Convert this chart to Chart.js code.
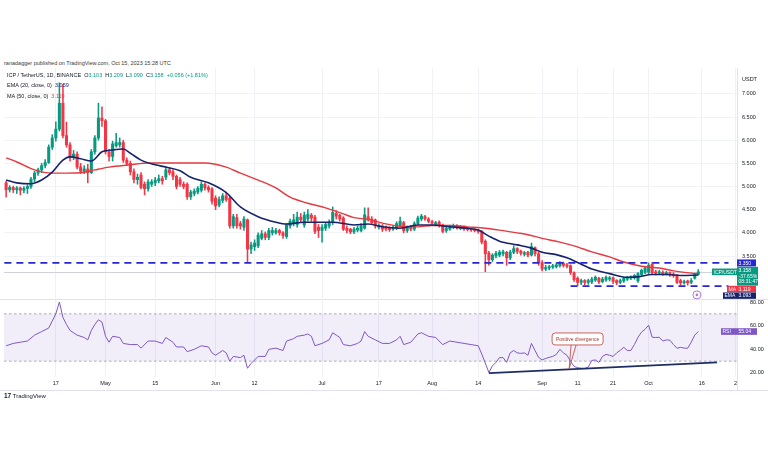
<!DOCTYPE html>
<html><head><meta charset="utf-8">
<script src="https://cdn.jsdelivr.net/npm/chart.js@4.4.1/dist/chart.umd.min.js"></script>
<style>
html,body{margin:0;padding:0;background:#fff;}
body{width:768px;height:463px;position:relative;overflow:hidden;font-family:"Liberation Sans",Arial,sans-serif;color:#131722;}
.t{position:absolute;white-space:nowrap;font-size:5.5px;line-height:7px;}
.g{color:#089981}
canvas{position:absolute;left:0;}
#c1{top:68px;} #c2{top:298px;}
.ln{position:absolute;background:#e0e3eb;}
</style></head><body>
<div class="t" style="left:4px;top:59.5px;color:#3a3a3a">ranadagger published on TradingView.com, Oct 15, 2023 15:28 UTC</div>
<div class="ln" style="left:0;top:299px;width:768px;height:1px"></div>
<div class="ln" style="left:0;top:390px;width:768px;height:1px"></div>
<div class="ln" style="left:737px;top:68px;width:1px;height:322px"></div>
<canvas id="c1" width="768" height="232"></canvas>
<canvas id="c2" width="768" height="96"></canvas>
<div class="t" style="left:7px;top:71.5px">ICP / TetherUS, 1D, BINANCE&nbsp; O<span class="g">3.103</span>&nbsp; H<span class="g">3.209</span>&nbsp; L<span class="g">3.090</span>&nbsp; C<span class="g">3.158</span>&nbsp; <span class="g">+0.056 (+1.81%)</span></div>
<div class="t" style="left:7px;top:82px">EMA (20, close, 0)&nbsp; <span style="color:#1b2a80">3.059</span></div>
<div class="t" style="left:7px;top:92.5px">MA (50, close, 0)&nbsp; <span style="color:#e5393f">3.119</span></div>
<div class="t" style="left:742px;top:75.5px">USDT</div>
<div class="t" style="left:4px;top:392px;font-size:6px;color:#131722"><b style="font-size:6.5px">17</b> TradingView</div>
<script>
const FONT = '"Liberation Sans", Arial, sans-serif';
// ---- axis ticks ----
const xTickDays   = [14, 28, 42, 59, 70, 89, 105, 120, 133, 151, 161, 171, 181, 196, 205.5];
const xTickLabels = ["17","May","15","Jun","12","Jul","17","Aug","14","Sep","11","21","Oct","16","2"];
const priceTicks  = [3.5, 4.0, 4.5, 5.0, 5.5, 6.0, 6.5, 7.0];
const rsiTicks    = [20, 40, 60, 80];
// ---- daily candles (day 0 = Apr 3, 2023) ----
const opens = [
5.08,4.93,4.98,4.93,4.97,4.92,4.96,5.00,5.16,5.29,
5.36,5.45,5.52,5.85,6.05,6.24,6.80,6.10,5.90,5.64,
5.70,5.42,5.33,5.38,5.30,5.75,6.05,6.48,6.42,5.75,
5.65,5.88,5.90,5.95,5.57,5.50,5.32,5.15,5.25,5.05,
4.95,5.05,5.08,5.12,5.17,5.20,5.36,5.32,5.22,5.15,
5.05,5.05,4.78,4.85,4.88,4.92,5.05,4.98,4.95,4.75,
4.60,4.70,4.80,4.75,4.15,4.33,4.20,4.12,4.28,3.65,
3.70,3.72,3.88,3.98,3.90,4.00,4.00,4.05,4.00,3.92,
4.15,4.20,4.18,4.34,4.17,4.30,4.38,4.34,4.12,4.05,
4.10,4.15,4.22,4.42,4.38,4.32,4.10,4.08,4.02,4.06,
4.05,4.10,4.35,4.30,4.28,4.12,4.15,4.12,4.10,4.08,
4.10,4.15,4.22,4.05,4.12,4.08,4.20,4.30,4.35,4.30,
4.24,4.18,4.23,4.17,4.05,4.08,4.12,4.15,4.10,4.13,
4.10,4.08,4.07,4.06,4.03,3.82,3.56,3.42,3.50,3.52,
3.55,3.58,3.46,3.58,3.66,3.60,3.54,3.58,3.52,3.68,
3.55,3.36,3.22,3.24,3.26,3.27,3.29,3.34,3.31,3.29,
3.14,3.02,2.93,2.97,2.93,2.94,2.98,3.02,2.95,2.98,
3.00,3.03,2.97,2.93,2.96,3.00,3.02,3.03,2.96,3.10,
3.15,3.15,3.32,3.16,3.13,3.15,3.11,3.14,3.11,3.09,
2.97,2.92,2.96,2.93,3.02,3.103];
const highs = [
5.12,5.02,5.01,5.00,4.99,5.00,5.04,5.20,5.33,5.40,
5.50,5.58,5.90,6.12,6.40,7.24,7.20,6.39,5.95,5.78,
5.75,5.50,5.45,5.48,5.80,6.10,6.80,6.72,6.45,5.80,
5.98,6.15,6.05,6.00,5.62,5.55,5.38,5.27,5.30,5.10,
5.15,5.15,5.20,5.25,5.22,5.42,5.40,5.36,5.25,5.20,
5.10,5.08,4.92,4.95,5.00,5.10,5.08,5.02,4.98,4.80,
4.78,4.85,4.88,4.78,4.40,4.40,4.25,4.35,4.30,3.80,
3.85,4.00,4.05,4.02,4.10,4.12,4.10,4.08,4.03,4.20,
4.30,4.40,4.45,4.42,4.45,4.50,4.42,4.38,4.18,4.18,
4.22,4.28,4.56,4.48,4.40,4.35,4.15,4.10,4.12,4.15,
4.20,4.54,4.54,4.35,4.30,4.20,4.18,4.15,4.13,4.16,
4.24,4.34,4.25,4.15,4.16,4.24,4.36,4.40,4.38,4.33,
4.27,4.25,4.26,4.19,4.13,4.17,4.19,4.18,4.16,4.15,
4.12,4.10,4.09,4.08,4.05,3.85,3.60,3.55,3.60,3.62,
3.63,3.60,3.62,3.72,3.68,3.63,3.60,3.60,3.78,3.70,
3.58,3.40,3.30,3.30,3.32,3.35,3.38,3.37,3.34,3.31,
3.16,3.05,3.00,2.99,3.00,3.04,3.07,3.04,3.04,3.07,
3.06,3.05,2.99,3.00,3.04,3.06,3.07,3.10,3.14,3.22,
3.27,3.35,3.36,3.19,3.19,3.18,3.17,3.16,3.14,3.10,
3.00,2.98,2.98,3.01,3.12,3.209];
const lows = [
4.77,4.88,4.87,4.85,4.82,4.86,4.85,4.96,5.10,5.24,
5.30,5.40,5.50,5.80,5.98,6.20,6.05,5.85,5.55,5.58,
5.38,5.28,5.28,5.08,5.28,5.70,6.00,6.30,5.70,5.55,
5.55,5.85,5.85,5.52,5.45,5.25,5.08,5.05,4.95,4.82,
4.90,5.00,5.02,5.08,5.05,5.15,5.25,5.15,4.95,5.00,
4.95,4.72,4.72,4.80,4.84,4.88,4.92,4.88,4.62,4.50,
4.56,4.65,4.68,4.10,4.10,4.10,4.08,4.05,3.37,3.55,
3.62,3.68,3.85,3.85,3.85,3.95,3.97,3.95,3.88,3.88,
4.10,4.15,4.12,4.22,4.12,4.25,4.25,3.98,3.90,3.80,
4.05,4.10,4.18,4.30,4.25,4.05,4.00,3.98,3.98,4.02,
4.02,4.08,4.25,4.18,4.10,4.08,4.03,4.04,4.03,4.05,
4.07,4.12,4.00,4.01,4.04,4.05,4.17,4.26,4.27,4.22,
4.18,4.15,4.12,4.00,4.01,4.05,4.09,4.08,4.07,4.05,
4.04,4.03,4.02,3.99,3.76,3.16,3.30,3.38,3.46,3.48,
3.50,3.30,3.42,3.55,3.55,3.52,3.50,3.48,3.50,3.50,
3.30,3.18,3.18,3.20,3.23,3.24,3.26,3.26,3.24,3.10,
2.95,2.86,2.88,2.88,2.89,2.90,2.95,2.90,2.92,2.95,
2.96,2.90,2.88,2.90,2.93,2.97,2.99,3.00,2.93,3.07,
3.12,3.12,3.10,3.09,3.10,3.08,3.09,3.06,3.04,2.90,
2.88,2.89,2.87,2.90,3.00,3.090];
const closes = [
4.93,4.98,4.93,4.97,4.92,4.96,5.00,5.16,5.29,5.36,
5.45,5.52,5.85,6.05,6.24,6.80,6.10,5.90,5.64,5.70,
5.42,5.33,5.38,5.30,5.75,6.05,6.48,6.42,5.75,5.65,
5.92,5.95,5.95,5.57,5.50,5.32,5.15,5.20,4.98,4.95,
5.10,5.10,5.14,5.17,5.12,5.36,5.30,5.22,5.00,5.05,
5.00,4.78,4.88,4.90,4.96,5.05,4.97,4.93,4.68,4.58,
4.72,4.80,4.72,4.15,4.35,4.15,4.15,4.30,3.65,3.74,
3.78,3.95,3.98,3.90,4.05,4.05,4.05,4.00,3.94,4.17,
4.25,4.28,4.34,4.28,4.38,4.40,4.32,4.03,4.05,4.12,
4.18,4.22,4.44,4.36,4.30,4.08,4.05,4.02,4.08,4.10,
4.15,4.39,4.28,4.22,4.15,4.16,4.08,4.08,4.07,4.12,
4.20,4.25,4.05,4.12,4.08,4.20,4.32,4.36,4.30,4.25,
4.21,4.22,4.17,4.03,4.10,4.14,4.16,4.12,4.13,4.08,
4.07,4.06,4.05,4.03,3.80,3.55,3.42,3.52,3.56,3.58,
3.59,3.46,3.58,3.66,3.60,3.56,3.57,3.52,3.70,3.55,
3.35,3.22,3.25,3.27,3.29,3.31,3.34,3.30,3.28,3.14,
2.99,2.93,2.97,2.93,2.97,3.00,3.04,2.94,3.00,3.04,
3.03,2.95,2.92,2.97,3.02,3.04,3.05,3.08,3.12,3.19,
3.24,3.30,3.14,3.13,3.16,3.11,3.14,3.10,3.08,2.93,
2.92,2.95,2.92,2.97,3.10,3.158];
// ---- moving averages ----
const emaDays   = [0,3,7,10,13,16,18,21,24,27,30,33,35,38,42,45,49,52,57,62,66,71,76,79,84,92,98,102,106,111,116,120,125,130,133,136,139,144,148,151,155,158,161,165,170,175,178,182,186,190,195];
const emaValues = [5.14,5.08,5.06,5.14,5.31,5.57,5.64,5.60,5.55,5.75,5.79,5.81,5.72,5.57,5.47,5.42,5.34,5.20,5.08,4.87,4.56,4.35,4.23,4.19,4.23,4.23,4.17,4.19,4.13,4.10,4.17,4.17,4.13,4.10,4.06,3.93,3.82,3.74,3.67,3.58,3.53,3.46,3.36,3.22,3.12,3.04,3.05,3.10,3.10,3.08,3.09];
const maDays    = [0,3,8,13,17,22,25,29,35,40,49,56,62,66,71,76,80,85,90,95,98,102,106,111,116,120,125,130,135,139,144,147,151,156,160,165,170,174,179,184,188,193,195];
const maValues  = [5.62,5.53,5.36,5.29,5.29,5.31,5.36,5.42,5.47,5.51,5.51,5.51,5.42,5.29,5.14,4.97,4.77,4.64,4.54,4.41,4.33,4.29,4.21,4.14,4.13,4.16,4.16,4.13,4.10,4.06,4.00,3.96,3.88,3.80,3.72,3.59,3.48,3.37,3.28,3.24,3.18,3.13,3.12];
// ---- RSI (14) ----
const rsiDays = [0,2,4,6,8,10,12,13,14,15,16,17,18,20,22,23,24,25,26,27,28,29,30,32,33,35,37,38,40,42,44,45,47,48,50,51,53,55,57,58,59,61,62,63,64,66,67,68,69,71,73,74,76,78,79,81,82,84,85,86,87,89,91,92,93,94,95,97,99,100,101,102,104,106,108,110,111,112,114,116,117,119,121,123,125,127,129,131,133,134,136,137,138,139,140,141,142,143,144,145,146,147,148,149,150,151,152,153,154,155,156,157,158,159,160,161,162,163,164,165,166,167,168,169,170,171,172,173,174,175,176,177,178,179,180,181,182,183,184,185,186,187,188,189,190,191,192,193,194,195];
const rsiValues = [43,45,46,47,52,55,58,64,70,80,67,61,56,52,50,48,56,61,65,63,51,46,51,50,45,44,44,41,47,47,45,50,46,42,42,38,40,43,42,37,35,39,37,30,34,33,35,24,28,34,34,40,41,39,47,49,51,52,53,51,43,45,48,54,52,50,44,43,45,47,55,51,48,45,45,48,51,44,46,53,54,51,50,44,47,46,45,44,43,36,20.4,26,29,33,33,29,37,39,37,36.6,37,35,45,39,33.2,31,32.3,33.2,34,35.7,40,37,34.9,30,25.5,24.5,24,23.8,25,30.6,31,28.9,34,35.7,35,34,37,39.1,41.7,39,39.1,44,50.2,54.5,57,60.4,50.2,50,50.2,47,48,47.7,44,40.9,41.7,41,40.9,46,52,55.04];
// ---- drawings ----
const resistanceLevel = 3.35, supportLevel = 2.85, supportFromDay = 159, levelsToDay = 203.5;
const trendDays = [136, 200.3], trendValues = [19.8, 28.9];
const lastClose = 3.158, lastMA = 3.119, lastEMA = 3.093, lastRSI = 55.04;
const eventDay = 194.6, eventPrice = 2.66;
const calloutDay = 158.6, calloutRsi = 23.4;

const GREEN = '#089981', RED = '#f23645';
const up = closes.map((c, i) => c >= opens[i]);

function zeroPad(s) { s.paddingTop = 0; s.paddingBottom = 0; s.paddingLeft = 0; s.paddingRight = 0; }
function xScale(showLabels) {
  return {
    type: 'linear', min: -0.6, max: 205.9, offset: false,
    afterBuildTicks: s => { s.ticks = xTickDays.map(v => ({ value: v })); },
    ticks: { display: showLabels, autoSkip: false, maxRotation: 0, padding: 3,
      font: { size: 5.5, family: FONT }, color: '#131722',
      callback: (v, i) => xTickLabels[i] },
    grid: { color: '#eff1f6', drawTicks: false, offset: false },
    border: { display: false },
    afterFit: s => { s.height = showLabels ? 17 : 0; zeroPad(s); }
  };
}
function tag(ctx, x, y, w, h, bg, text, fg, bold) {
  ctx.fillStyle = bg; ctx.fillRect(x, y, w, h);
  ctx.fillStyle = fg; ctx.font = (bold ? 'bold ' : '') + '5px ' + FONT;
  ctx.textAlign = 'left'; ctx.textBaseline = 'middle';
  ctx.fillText(text, x + 1.5, y + h / 2 + 0.3);
}

const pricePlugin = {
  id: 'pricePlugin',
  beforeDatasetsDraw(chart) {
    const { ctx, chartArea: a, scales: { y } } = chart;
    ctx.save();
    ctx.strokeStyle = '#cfd2da'; ctx.lineWidth = 1;
    const yp = Math.round(y.getPixelForValue(lastClose)) + 0.5;
    ctx.beginPath(); ctx.moveTo(a.left, yp); ctx.lineTo(a.right, yp); ctx.stroke();
    ctx.restore();
  },
  afterDatasetsDraw(chart) {
    const { ctx, scales: { x, y } } = chart;
    ctx.save();
    ctx.strokeStyle = '#2626d6'; ctx.lineWidth = 1.7; ctx.setLineDash([7, 5]);
    const yr = y.getPixelForValue(resistanceLevel);
    ctx.beginPath(); ctx.moveTo(x.getPixelForValue(-0.5), yr); ctx.lineTo(x.getPixelForValue(levelsToDay), yr); ctx.stroke();
    const ys = y.getPixelForValue(supportLevel);
    ctx.beginPath(); ctx.moveTo(x.getPixelForValue(supportFromDay), ys); ctx.lineTo(x.getPixelForValue(levelsToDay), ys); ctx.stroke();
    ctx.setLineDash([]);
    const ex = x.getPixelForValue(eventDay), ey = y.getPixelForValue(eventPrice);
    ctx.strokeStyle = '#a77bd6'; ctx.lineWidth = 1;
    ctx.beginPath(); ctx.arc(ex, ey, 4, 0, Math.PI * 2); ctx.fillStyle = '#fff'; ctx.fill(); ctx.stroke();
    ctx.fillStyle = '#a77bd6'; ctx.beginPath(); ctx.arc(ex, ey, 1.3, 0, Math.PI * 2); ctx.fill();
    ctx.restore();
  },
  afterDraw(chart) {
    const { ctx, scales: { y } } = chart;
    ctx.save();
    const yr = y.getPixelForValue(resistanceLevel);
    tag(ctx, 737, yr - 3.5, 19, 7, '#2626d6', resistanceLevel.toFixed(3), '#fff');
    const yp = y.getPixelForValue(lastClose);
    tag(ctx, 712, yp - 3.3, 25, 6.6, GREEN, 'ICP/USDT', '#fff');
    ctx.fillStyle = GREEN; ctx.fillRect(737, yp - 5, 21, 18.8);
    ctx.fillStyle = '#fff'; ctx.font = '5px ' + FONT; ctx.textBaseline = 'middle';
    ctx.fillText(lastClose.toFixed(3), 738.5, yp - 1.6);
    ctx.fillText('-37.65%', 738.5, yp + 4.4);
    ctx.fillText('08:31:47', 738.5, yp + 10.2);
    const ym = yp + 17.2;
    tag(ctx, 727, ym - 3.2, 10, 6.4, RED, 'MA', '#fff');
    tag(ctx, 737, ym - 3.2, 19, 6.4, RED, lastMA.toFixed(3), '#fff');
    const ye = ym + 6.6;
    tag(ctx, 723, ye - 3.2, 14, 6.4, '#16236b', 'EMA', '#fff');
    tag(ctx, 737, ye - 3.2, 19, 6.4, '#16236b', lastEMA.toFixed(3), '#fff');
    ctx.restore();
  }
};

new Chart(document.getElementById('c1'), {
  type: 'bar',
  data: {
    datasets: [
      { type: 'line', label: 'EMA', data: emaDays.map((d, i) => ({ x: d, y: emaValues[i] })),
        borderColor: '#16236b', borderWidth: 1.6, pointRadius: 0, cubicInterpolationMode: 'monotone', order: 0 },
      { type: 'line', label: 'MA', data: maDays.map((d, i) => ({ x: d, y: maValues[i] })),
        borderColor: '#e5393f', borderWidth: 1.4, pointRadius: 0, cubicInterpolationMode: 'monotone', order: 0 },
      { label: 'body', data: closes.map((c, i) => ({ x: i, y: [opens[i], c] })),
        backgroundColor: up.map(u => u ? GREEN : RED), barThickness: 2.4, minBarLength: 0.8, grouped: false, order: 1 },
      { label: 'wick', data: closes.map((c, i) => ({ x: i, y: [lows[i], highs[i]] })),
        backgroundColor: up.map(u => u ? GREEN : RED), barThickness: 0.9, grouped: false, order: 2 }
    ]
  },
  options: {
    responsive: false, animation: false, devicePixelRatio: 1,
    layout: { padding: { left: 4, right: 0, top: 0, bottom: 2 } },
    plugins: { legend: { display: false }, tooltip: { enabled: false } },
    scales: {
      x: xScale(false),
      y: { position: 'right', min: 2.593, max: 7.56,
        afterBuildTicks: s => { s.ticks = priceTicks.map(v => ({ value: v })); },
        ticks: { padding: 5, font: { size: 5.5, family: FONT }, color: '#131722', callback: v => v.toFixed(3) },
        grid: { color: '#f1f3f7', drawTicks: false }, border: { display: false },
        afterFit: s => { s.width = 31; zeroPad(s); } }
    }
  },
  plugins: [pricePlugin]
});

const rsiPlugin = {
  id: 'rsiPlugin',
  beforeDatasetsDraw(chart) {
    const { ctx, chartArea: a, scales: { y } } = chart;
    ctx.save();
    const y70 = y.getPixelForValue(70), y30 = y.getPixelForValue(30);
    ctx.fillStyle = 'rgba(126,87,194,0.10)';
    ctx.fillRect(a.left, y70, a.right - a.left, y30 - y70);
    ctx.strokeStyle = '#9598a1'; ctx.lineWidth = 0.8; ctx.setLineDash([2.5, 2.5]);
    [y70, y30].forEach(v => { ctx.beginPath(); ctx.moveTo(a.left, v); ctx.lineTo(a.right, v); ctx.stroke(); });
    ctx.restore();
  },
  afterDraw(chart) {
    const { ctx, scales: { x, y } } = chart;
    ctx.save();
    const yr = y.getPixelForValue(lastRSI);
    tag(ctx, 721, yr - 3.3, 16, 6.6, '#7e57c2', 'RSI', '#fff');
    tag(ctx, 737, yr - 3.3, 20, 6.6, '#7e57c2', lastRSI.toFixed(2), '#fff');
    const tx = x.getPixelForValue(calloutDay), ty = y.getPixelForValue(calloutRsi);
    const bx = tx - 17, by = ty - 36, bw = 51, bh = 12;
    ctx.strokeStyle = '#c2554f'; ctx.lineWidth = 0.9;
    ctx.beginPath(); ctx.moveTo(tx + 2, by + bh); ctx.lineTo(tx, ty); ctx.lineTo(tx + 7, by + bh); ctx.stroke();
    ctx.beginPath(); ctx.roundRect(bx, by, bw, bh, 3); ctx.fillStyle = '#fff'; ctx.fill(); ctx.stroke();
    ctx.fillStyle = '#a33a35'; ctx.font = '5px ' + FONT; ctx.textAlign = 'center'; ctx.textBaseline = 'middle';
    ctx.fillText('Positive divergence', bx + bw / 2, by + bh / 2 + 0.3);
    ctx.restore();
  }
};

new Chart(document.getElementById('c2'), {
  type: 'line',
  data: {
    datasets: [
      { label: 'trend', data: trendDays.map((d, i) => ({ x: d, y: trendValues[i] })),
        borderColor: '#1f2d66', borderWidth: 1.8, pointRadius: 0, order: 0 },
      { label: 'RSI', data: rsiDays.map((d, i) => ({ x: d, y: rsiValues[i] })),
        borderColor: '#7e57c2', borderWidth: 1, pointRadius: 0, tension: 0, order: 1 }
    ]
  },
  options: {
    responsive: false, animation: false, devicePixelRatio: 1,
    layout: { padding: { left: 4, right: 0, top: 2, bottom: 0 } },
    plugins: { legend: { display: false }, tooltip: { enabled: false } },
    scales: {
      x: xScale(true),
      y: { position: 'right', min: 16.6, max: 81.7,
        afterBuildTicks: s => { s.ticks = rsiTicks.map(v => ({ value: v })); },
        ticks: { padding: 5, font: { size: 5.5, family: FONT }, color: '#131722', callback: v => v.toFixed(2) },
        grid: { display: false }, border: { display: false },
        afterFit: s => { s.width = 31; zeroPad(s); } }
    }
  },
  plugins: [rsiPlugin]
});
</script>
</body></html>
